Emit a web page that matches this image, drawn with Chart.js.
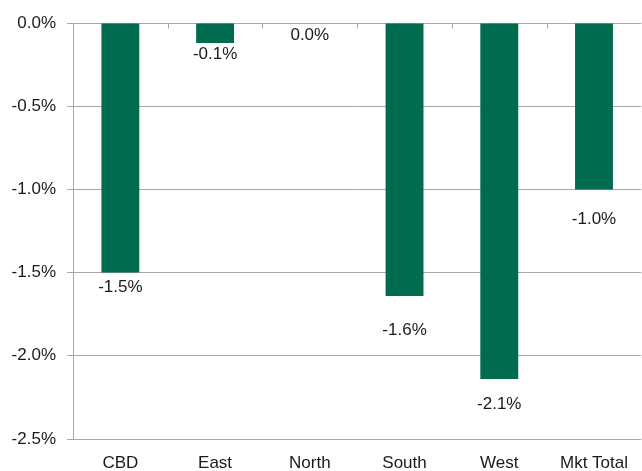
<!DOCTYPE html>
<html>
<head>
<meta charset="utf-8">
<script src="https://cdn.jsdelivr.net/npm/chart.js@4"></script>
<style>
  html, body { margin: 0; padding: 0; background: #ffffff; }
  #wrap { width: 642px; height: 471px; }
</style>
</head>
<body>
<div id="wrap"><canvas id="c" width="642" height="471"></canvas></div>
<script>
// ---- data ----
const categories = ["CBD", "East", "North", "South", "West", "Mkt Total"];
const changeValues = [-1.50, -0.12, 0.0, -1.64, -2.14, -1.00];
const yTickMin = -2.5;
const yTickMax = 0;
const yTickStep = 0.5;

// ---- style ----
const BAR_COLOR = "#006b4e";
const GRID_COLOR = "#a8a8a8";
const TEXT_COLOR = "#1a1a1a";
const FONT = "'Liberation Sans', Arial, sans-serif";
const labelGaps = [7, 4, 5, 27, 18, 22]; // vertical gap between bar end and its value label

const valueLabelPlugin = {
  id: "valueLabels",
  afterDatasetsDraw(chart) {
    const ctx = chart.ctx;
    const meta = chart.getDatasetMeta(0);
    const data = chart.data.datasets[0].data;
    ctx.save();
    ctx.font = "17px " + FONT;
    ctx.fillStyle = TEXT_COLOR;
    ctx.textAlign = "center";
    ctx.textBaseline = "top";
    meta.data.forEach((bar, i) => {
      const txt = data[i].toFixed(1) + "%";
      ctx.fillText(txt, bar.x, bar.y + labelGaps[i] - 1);
    });
    ctx.restore();
  }
};

const categoryTicksPlugin = {
  id: "categoryTicks",
  afterDraw(chart) {
    const ctx = chart.ctx;
    const xs = chart.scales.x;
    const ys = chart.scales.y;
    const y0 = Math.round(ys.getPixelForValue(0)) + 0.5;
    ctx.save();
    ctx.strokeStyle = GRID_COLOR;
    ctx.lineWidth = 1;
    const n = categories.length;
    const step = (xs.getPixelForValue(1) - xs.getPixelForValue(0));
    for (let i = 1; i < n; i++) {
      const x = Math.round(xs.getPixelForValue(i) - step / 2) + 0.5;
      ctx.beginPath();
      ctx.moveTo(x, y0);
      ctx.lineTo(x, y0 + 5);
      ctx.stroke();
    }
    ctx.restore();
  }
};

new Chart(document.getElementById("c"), {
  type: "bar",
  data: {
    labels: categories,
    datasets: [{
      data: changeValues,
      backgroundColor: BAR_COLOR,
      borderWidth: 0,
      barPercentage: 0.4,
      categoryPercentage: 1.0
    }]
  },
  options: {
    responsive: false,
    animation: false,
    devicePixelRatio: 1,
    layout: { padding: { top: 23, right: 0, left: 0, bottom: 0 } },
    plugins: {
      legend: { display: false },
      tooltip: { enabled: false }
    },
    scales: {
      x: {
        position: "bottom",
        grid: { display: false, drawTicks: false },
        border: { display: false },
        ticks: {
          color: TEXT_COLOR,
          font: { family: FONT, size: 17 },
          padding: 14,
          maxRotation: 0,
          autoSkip: false
        },
        afterFit(scale) { scale.height = 32; }
      },
      y: {
        min: yTickMin,
        max: yTickMax,
        grid: {
          color: GRID_COLOR,
          lineWidth: 1,
          drawTicks: true,
          tickLength: 6
        },
        border: { display: true, color: GRID_COLOR, width: 1 },
        ticks: {
          stepSize: yTickStep,
          color: TEXT_COLOR,
          font: { family: FONT, size: 17 },
          padding: 11,
          callback: (v) => (Math.abs(v) < 1e-9 ? 0 : v).toFixed(1) + "%"
        },
        afterFit(scale) { scale.width = 73; }
      }
    }
  },
  plugins: [valueLabelPlugin, categoryTicksPlugin]
});
</script>
</body>
</html>
